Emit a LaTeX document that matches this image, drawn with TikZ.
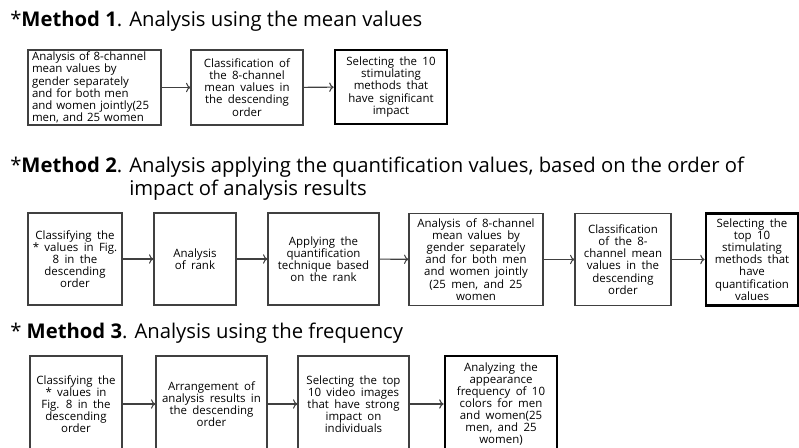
\documentclass[tikz,border=0pt]{standalone}
\usepackage{fontspec}
\setmainfont{Open Sans}
\newfontfamily\boxfont{Open Sans}[WordSpace=1.8]
\usetikzlibrary{positioning, arrows.meta}
\tikzset{box/.style={draw=black!75, line width=0.8pt, font=\boxfont\fontsize{8.6}{9.1}\selectfont, align=center, inner sep=1pt},
         final/.style={box, draw=black, line width=2pt},
         wh/.style 2 args={minimum width=#1*0.75pt, minimum height=#2*0.75pt},
         heading/.style={anchor=west, font=\fontsize{15.2}{17.25}\selectfont, inner sep=0pt},
         link/.style={->, draw=black!75, line width=0.8pt},
        }

\begin{document}
\begin{tikzpicture}[x=0.75pt,y=-0.75pt]
        \useasboundingbox (0,0) rectangle (799,448);
        \clip (0,0) rectangle (799,448);

        \node[heading](t1)at(10,21){*\textbf{Method 1}. Analysis using the mean values};
        \node[box, wh={133}{75}, align=left, text width=125*0.75pt, inner xsep=0pt](m1a)at(94.5,87.5){Analysis of 8-channel\\mean values by\\gender separately\\and for both men\\and women jointly(25\\men, and 25 women};
        \node[box, wh={112}{75}](m1b)at(247,87.5){Classification of\\the 8-channel\\mean values in\\the descending\\order};
        \node[final, wh={112}{74}](m1c)at(391,87){Selecting the 10\\stimulating\\methods that\\have significant\\impact};

        \draw[link](m1a)--(m1b);
        \draw[link](m1b)--(m1c);

        \node[heading](t2)at(10,179){\begin{tabular}{@{}l@{ }l@{}}*\textbf{Method 2}. & Analysis applying the quantification values, based on the order of\\ & impact of analysis results\end{tabular}};
        \node[box, wh={94}{92}](m2a)at(75,259){Classifying the\\* values in Fig.\\8 in the\\descending\\order};
        \node[box, wh={82}{92}](m2b)at(195,259){Analysis\\of rank};
        \node[box, wh={111}{92}](m2c)at(323.5,259){Applying the\\quantification\\technique based\\on the rank};
        \node[box, wh={134}{92}](m2d)at(476,259.5){Analysis of 8-channel\\mean values by\\gender separately\\and for both men\\and women jointly\\(25 men, and 25\\women};
        \node[box, wh={96}{92}](m2e)at(623,259.5){Classification\\of the 8-\\channel mean\\values in the\\descending\\order};
        \node[final, wh={92}{92}](m2f)at(752,259.5){Selecting the\\top 10\\stimulating\\methods that\\have\\quantification\\values};

        \draw[link](m2a)--(m2b);
        \draw[link](m2b)--(m2c);
        \draw[link](m2c)--(m2d);
        \draw[link](m2d)--(m2e);
        \draw[link](m2e)--(m2f);

        \node[heading](t3)at(10,333){* \textbf{Method 3}. Analysis using the frequency};
        \node[box, wh={92}{96}](m3a)at(76,404){Classifying the\\* values in\\Fig. 8 in the\\descending\\order};
        \node[box, wh={111}{96}](m3b)at(211.5,404){Arrangement of\\analysis results in\\the descending\\order};
        \node[box, wh={111}{96}](m3c)at(353.5,404){Selecting the top\\10 video images\\that have strong\\impact on\\individuals};
        \node[final, wh={112}{96}](m3d)at(501,404){Analyzing the\\appearance\\frequency of 10\\colors for men\\and women(25\\men, and 25\\women)};

        \draw[link](m3a)--(m3b);
        \draw[link](m3b)--(m3c);
        \draw[link](m3c)--(m3d);
\end{tikzpicture}
\end{document}
